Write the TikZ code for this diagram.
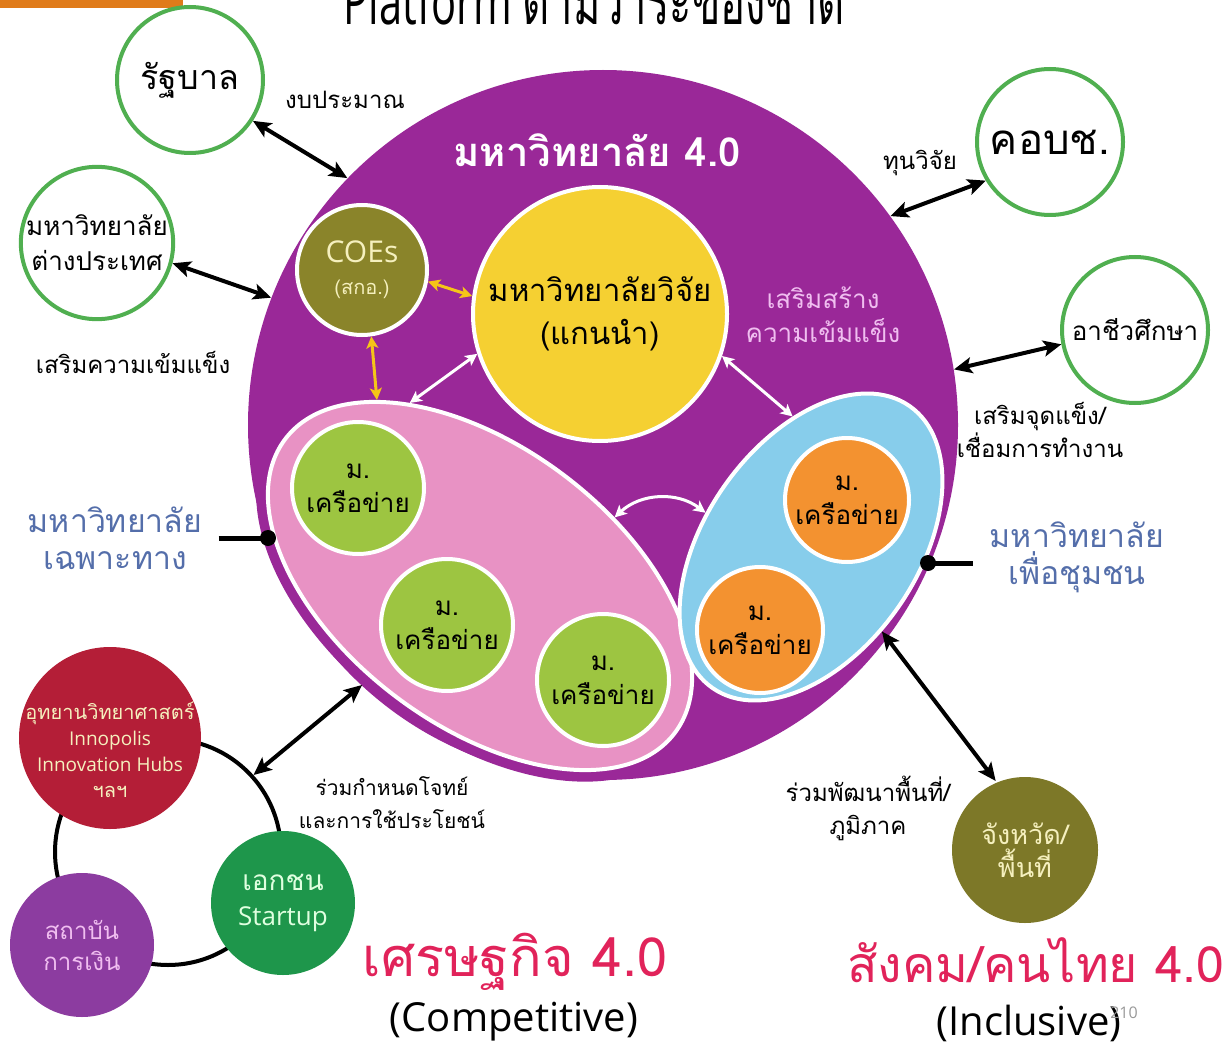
\documentclass[tikz,border=0pt]{standalone}
\usepackage{graphicx}
\usepackage{fontspec}
\setmainfont{Open Sans}
\newfontfamily\thai[Script=Thai]{Loma}
\usetikzlibrary{arrows.meta,shapes.geometric}
\newcommand\fsz[2]{\fontsize{#1}{#2}\selectfont}
\definecolor{uniPurple}{RGB}{154,40,152}
\definecolor{spPink}{RGB}{232,146,196}
\definecolor{cmBlue}{RGB}{135,205,235}
\definecolor{resYellow}{RGB}{245,208,50}
\definecolor{coeOlive}{RGB}{138,132,42}
\definecolor{provOlive}{RGB}{125,120,40}
\definecolor{netGreen}{RGB}{157,197,65}
\definecolor{netOrange}{RGB}{243,146,48}
\definecolor{ringGreen}{RGB}{80,175,80}
\definecolor{labelBlue}{RGB}{84,110,170}
\definecolor{hubRed}{RGB}{180,30,55}
\definecolor{finPurple}{RGB}{140,60,160}
\definecolor{firmGreen}{RGB}{30,150,75}
\definecolor{goalRed}{RGB}{225,35,90}
\definecolor{cream}{RGB}{245,240,190}
\definecolor{softPink}{RGB}{240,190,240}
\definecolor{arrowGold}{RGB}{245,197,24}
\definecolor{barOrange}{RGB}{224,123,26}

\begin{document}
\begin{tikzpicture}[x=0.5pt,y=-0.5pt,
  >={Stealth[length=9pt,width=8pt,inset=2pt]},
  partner/.style={circle,draw=ringGreen,line width=2pt,fill=white,minimum size=73pt,inner sep=0pt,align=center},
  disc/.style={circle,draw=white,line width=2pt,inner sep=0pt,align=center},
  net/.style={disc,minimum size=66pt,font=\thai\fsz{13}{17}},
  lbl/.style={align=center,inner sep=0pt,font=\thai\fsz{12}{16.5}},
  bigarrow/.style={<->,line width=2pt},
  thinarrow/.style={<->,line width=1.5pt,>={Stealth[length=6pt,width=6pt,inset=1.5pt]}}]
\useasboundingbox (0,0) rectangle (1231,1059);
\fill[barOrange] (0,0) rectangle (183,8);
\node[anchor=base,font=\fsz{32}{36}] (title) at (594,25) {\scalebox{0.65}[1]{Platform {\thai ตามวาระของชาติ}}};

% university 4.0 and its members
\node[circle,fill=uniPurple,minimum size=355pt,inner sep=0pt] (uni) at (603,425) {};
\node[ellipse,fill=uniPurple,minimum width=256pt,minimum height=151pt,rotate=-37,inner sep=0pt] (pinkrim) at (480,586) {};
\node[ellipse,fill=spPink,draw=white,line width=2pt,minimum width=244pt,minimum height=139pt,rotate=-37,inner sep=0pt] (pink) at (480,586) {};
\node[ellipse,fill=cmBlue,draw=white,line width=2pt,minimum width=172pt,minimum height=106pt,rotate=55,inner sep=0pt] (blue) at (811,547) {};
\node[text=white,font=\thai\bfseries\fsz{20}{24}] (uni4) at (597,150) {มหาวิทยาลัย 4.0};
\node[disc,fill=resYellow,minimum size=127pt,font=\thai\fsz{15.5}{21.5}] (res) at (600,314) {มหาวิทยาลัยวิจัย\\(แกนนำ)};
\node[disc,fill=coeOlive,minimum size=65pt,text=cream,font=\fsz{10}{16}] (coe) at (362,270) {{\fsz{15}{16}COEs}\\{\thai\fsz{10}{16}(สกอ.)}};
\node[lbl,text=softPink,font=\thai\fsz{13}{17}] (boost) at (823,315) {เสริมสร้าง\\ความเข้มแข็ง};
\node[net,fill=netGreen] (g1) at (358,488) {ม.\\เครือข่าย};
\node[net,fill=netGreen] (g2) at (447,625) {ม.\\เครือข่าย};
\node[net,fill=netGreen] (g3) at (603,680) {ม.\\เครือข่าย};
\node[net,fill=netOrange,minimum size=62pt] (o1) at (847,500) {ม.\\เครือข่าย};
\node[net,fill=netOrange,minimum size=63pt] (o2) at (760,630) {ม.\\เครือข่าย};

% partners around
\node[partner,font=\thai\fsz{17}{20}] (gov) at (190,80) {รัฐบาล};
\node[partner,font=\thai\fsz{13}{17.5}] (abroad) at (97,243) {มหาวิทยาลัย\\ต่างประเทศ};
\node[partner,font=\thai\fsz{21}{24}] (kob) at (1050,142) {คอบช.};
\node[partner,font=\thai\fsz{13}{17}] (voc) at (1135,330) {อาชีวศึกษา};
\node[lbl] (budget) at (345,100) {งบประมาณ};
\node[lbl] (fund) at (920,163) {ทุนวิจัย};
\node[lbl] (strong) at (133,362) {เสริมความเข้มแข็ง};
\node[lbl] (link) at (1040,430) {เสริมจุดแข็ง/\\เชื่อมการทำงาน};
\node[lbl,text=labelBlue,font=\thai\fsz{16}{18.5}] (spec) at (115,538) {มหาวิทยาลัย\\เฉพาะทาง};
\node[lbl,text=labelBlue,font=\thai\fsz{16}{18.5}] (comm) at (1077,557) {มหาวิทยาลัย\\เพื่อชุมชน};
\coordinate (specdot) at (268,538);
\coordinate (commdot) at (928,563);

% economy cluster
\node[circle,draw,line width=2pt,minimum size=113pt,inner sep=0pt] (ring) at (168,852) {};
\node[circle,fill=hubRed,minimum size=91pt,inner sep=0pt] (hub) at (110,738) {};
\node[align=center,inner sep=0pt,text=cream,font=\fsz{9.5}{13}] (hubtxt) at (110,750) {{\thai\fsz{10}{13}อุทยานวิทยาศาสตร์}\\Innopolis\\Innovation Hubs\\{\thai\fsz{10}{13}ฯลฯ}};
\node[disc,draw=none,fill=finPurple,minimum size=72pt,text=softPink,font=\thai\fsz{12}{15.5}] (fin) at (82,945) {สถาบัน\\การเงิน};
\node[disc,draw=none,fill=firmGreen,minimum size=72pt,text=white!88!green,font=\thai\fsz{14}{17.5}] (firm) at (283,903) {เอกชน\\{\normalfont\fsz{13}{17.5}Startup}};
\node[lbl,font=\thai\fsz{10.5}{16.5}] (joint) at (392,803) {ร่วมกำหนดโจทย์\\และการใช้ประโยชน์};
\node[disc,draw=none,fill=provOlive,minimum size=73pt,text=cream,font=\thai\fsz{13.5}{16.5}] (prov) at (1025,850) {จังหวัด/\\พื้นที่};
\node[lbl] (area) at (868,808) {ร่วมพัฒนาพื้นที่/\\ภูมิภาค};

% goals
\node[text=goalRed,font=\thai\fsz{27}{30}] (econ) at (515,962) {เศรษฐกิจ 4.0};
\node[font=\fsz{20}{24}] (compet) at (514,1022) {(Competitive)};
\node[text=goalRed,font=\thai\fsz{25}{30}] (soc) at (1036,960) {สังคม/คนไทย 4.0};
\node[font=\fsz{20}{24}] (incl) at (1029,1023) {(Inclusive)};
\node[text=black!40,font=\fsz{8}{10}] (page) at (1124,1013) {210};

% connectors
\draw[bigarrow] (gov.-33) -- (uni.136);
\draw[bigarrow] (abroad.-15) -- (uni.159);
\draw[bigarrow] (uni.36) -- (kob.211);
\draw[bigarrow] (uni.9) -- (voc.191);
\draw[bigarrow] (ring.42) -- (pinkrim.257);
\draw[bigarrow] (blue.255) -- (prov.113);
\draw[thinarrow,white] (pink.148) -- (res.198);
\draw[thinarrow,white] (res.-19) -- (blue.43);
\draw[thinarrow,white] (pink.64) to[bend left=40] (blue.107);
\draw[thinarrow,arrowGold] (coe.-10) -- (res.172);
\draw[thinarrow,arrowGold] (coe.-82) -- (pink.156);
\draw[line width=2.5pt,shorten <=8pt] (specdot -| spec.east) -- (specdot);
\fill (specdot) circle[radius=4pt];
\draw[line width=2.5pt,shorten >=8pt] (commdot) -- (commdot -| comm.west);
\fill (commdot) circle[radius=4pt];
\end{tikzpicture}
\end{document}
